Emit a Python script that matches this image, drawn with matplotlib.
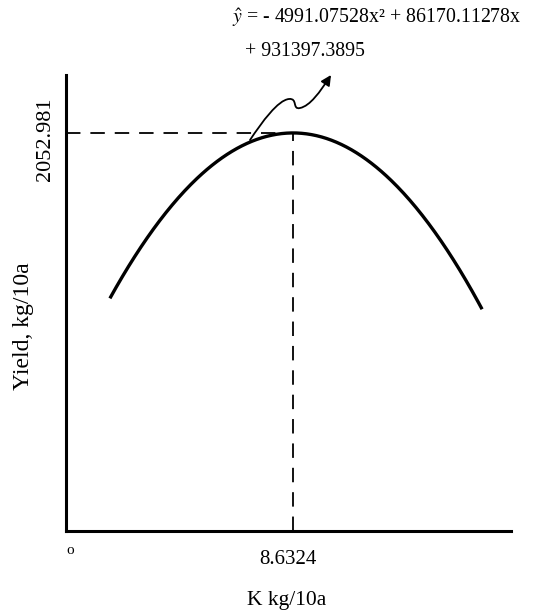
import matplotlib
matplotlib.use("Agg")
import matplotlib.pyplot as plt
import numpy as np
from matplotlib.path import Path
from matplotlib.patches import FancyArrowPatch

plt.rcParams["font.family"] = ["Liberation Serif", "DejaVu Serif"]
plt.rcParams["mathtext.fontset"] = "stix"

# optimum point of the fitted response curve
X_OPT = 8.6324
Y_MAX = 2052.981
# fertilizer range covered by the curve and its curvature (yield units per kg^2)
X_RANGE = [1.67, 15.82]
CURVATURE = 17.6
# axis extents
X_LIM = [0, 16.92]
Y_LIM = [0, 2352]

EQ_LINE1 = r"$\hat{y}$ = - 4991.07528x² + 86170.11278x"
EQ_LINE2 = "+ 931397.3895"

fig = plt.figure(figsize=(5.36, 6.13), dpi=100)
ax = fig.add_axes([0.1231, 0.1338, 0.8303, 0.7439])

x = np.linspace(X_RANGE[0], X_RANGE[1], 300)
y = Y_MAX - CURVATURE * (x - X_OPT) ** 2
ax.plot(x, y, color="black", linewidth=2.4, solid_capstyle="butt")

# dashed guides to the optimum
dash = (0, (8, 5.5))
ax.plot([X_LIM[0], X_OPT], [Y_MAX, Y_MAX], color="black", linewidth=1.3, linestyle=dash)
ax.plot([X_OPT, X_OPT], [Y_LIM[0], Y_MAX], color="black", linewidth=1.3, linestyle=dash)

ax.set_xlim(X_LIM)
ax.set_ylim(Y_LIM)
for side in ["top", "right"]:
    ax.spines[side].set_visible(False)
for side in ["left", "bottom"]:
    ax.spines[side].set_linewidth(2.2)
ax.set_xticks([])
ax.set_yticks([])

ax.text(X_OPT - 0.2, -0.062 * Y_LIM[1], f"{X_OPT}", ha="center", va="center", fontsize=15)
ax.text(0.0, -0.043 * Y_LIM[1], "o", ha="left", va="center", fontsize=11)
ax.text(-0.045 * X_LIM[1], Y_MAX - 35, f"{Y_MAX}", ha="center", va="center",
        rotation=90, fontsize=16)

fig.text(287 / 536, 1 - 601 / 613, "K kg/10a", ha="center", va="center", fontsize=15.5)
fig.text(23 / 536, 1 - 326 / 613, "Yield, kg/10a", ha="center", va="center",
         rotation=90, fontsize=17)

# regression equation with a curly pointer to the curve
fig.text(232 / 536, 1 - 18 / 613, EQ_LINE1, ha="left", va="center", fontsize=14.3)
fig.text(245 / 536, 1 - 52 / 613, EQ_LINE2, ha="left", va="center", fontsize=14.3)


def fpt(px, py):
    return (px / 536, 1 - py / 613)


verts = [fpt(250, 140),
         fpt(262, 122), fpt(278, 100), fpt(289, 99),
         fpt(298, 98), fpt(292, 110), fpt(300, 108),
         fpt(310, 106), fpt(320, 92), fpt(331, 75)]
codes = [Path.MOVETO] + [Path.CURVE4] * 9
pointer = FancyArrowPatch(path=Path(verts, codes), arrowstyle="-|>,head_length=6,head_width=3",
                          transform=fig.transFigure, color="black", linewidth=1.3)
fig.add_artist(pointer)

fig.savefig("out.png", dpi=100)
